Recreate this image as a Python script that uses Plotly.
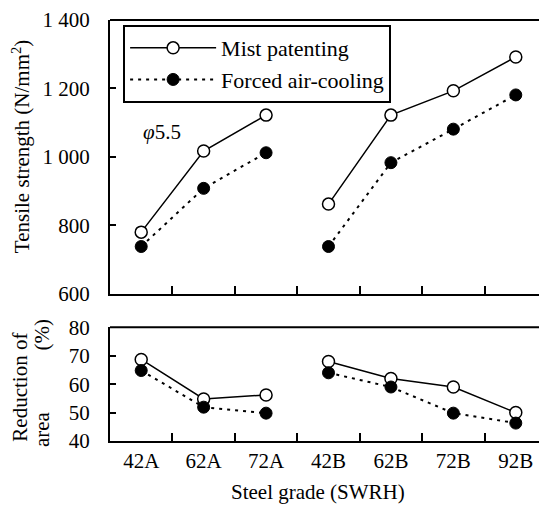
import plotly.graph_objects as go

grades = ["42A", "62A", "72A", "42B", "62B", "72B", "92B"]
group_a = ["42A", "62A", "72A"]
group_b = ["42B", "62B", "72B", "92B"]

tensile_mist_a = [780, 1017, 1122]
tensile_mist_b = [862, 1122, 1193, 1292]
tensile_forced_a = [738, 908, 1012]
tensile_forced_b = [738, 983, 1081, 1181]

reduction_mist_a = [68.7, 54.8, 56.2]
reduction_mist_b = [68.0, 62.0, 59.0, 50.0]
reduction_forced_a = [64.8, 51.9, 49.8]
reduction_forced_b = [64.0, 59.0, 49.8, 46.3]

tensile_ticks = [600, 800, 1000, 1200, 1400]
tensile_ticktext = ["600", "800", "1 000", "1 200", "1 400"]
reduction_ticks = [40, 50, 60, 70, 80]

FONT = "'Times New Roman', 'Liberation Serif', serif"
FS = 21

fig = go.Figure()

mist_style = dict(mode="lines+markers", line=dict(color="black", width=1.5),
                  marker=dict(symbol="circle", size=12, color="white",
                              line=dict(color="black", width=1.5)))
forced_style = dict(mode="lines+markers", line=dict(color="black", width=2, dash="3px,5px"),
                    marker=dict(symbol="circle", size=12, color="black",
                                line=dict(color="black", width=1)))

# top panel
fig.add_trace(go.Scatter(x=group_a, y=tensile_mist_a, name="Mist patenting", legendgroup="mist",
                         showlegend=True, xaxis="x2", yaxis="y2", **mist_style))
fig.add_trace(go.Scatter(x=group_b, y=tensile_mist_b, name="Mist patenting", legendgroup="mist",
                         showlegend=False, xaxis="x2", yaxis="y2", **mist_style))
fig.add_trace(go.Scatter(x=group_a, y=tensile_forced_a, name="Forced air-cooling", legendgroup="forced",
                         showlegend=True, xaxis="x2", yaxis="y2", **forced_style))
fig.add_trace(go.Scatter(x=group_b, y=tensile_forced_b, name="Forced air-cooling", legendgroup="forced",
                         showlegend=False, xaxis="x2", yaxis="y2", **forced_style))
# bottom panel
fig.add_trace(go.Scatter(x=group_a, y=reduction_mist_a, legendgroup="mist", showlegend=False,
                         xaxis="x", yaxis="y", **mist_style))
fig.add_trace(go.Scatter(x=group_b, y=reduction_mist_b, legendgroup="mist", showlegend=False,
                         xaxis="x", yaxis="y", **mist_style))
fig.add_trace(go.Scatter(x=group_a, y=reduction_forced_a, legendgroup="forced", showlegend=False,
                         xaxis="x", yaxis="y", **forced_style))
fig.add_trace(go.Scatter(x=group_b, y=reduction_forced_b, legendgroup="forced", showlegend=False,
                         xaxis="x", yaxis="y", **forced_style))

top_dom = [0.3498, 1.0]
bot_dom = [0.0, 0.2700]

xcommon = dict(type="category", categoryorder="array", categoryarray=grades,
               range=[-0.5, 6.5], tickson="boundaries", ticks="inside", ticklen=8,
               tickwidth=1.5, tickcolor="black", showline=True, linecolor="black",
               linewidth=2, showgrid=False, zeroline=False, mirror=False)

fig.update_layout(
    width=539, height=502,
    margin=dict(l=102, r=0, t=7, b=69),
    paper_bgcolor="white", plot_bgcolor="white",
    font=dict(family=FONT, size=FS, color="black"),
    xaxis=dict(domain=[0, 1], anchor="y", tickfont=dict(family=FONT, size=FS), **xcommon),
    xaxis2=dict(domain=[0, 1], anchor="y2", matches="x", showticklabels=False, **xcommon),
    yaxis=dict(domain=bot_dom, anchor="x", range=[40, 80], tickvals=reduction_ticks,
               ticks="inside", ticklen=6, tickwidth=1.5, tickcolor="black",
               showline=True, linecolor="black", linewidth=2, showgrid=False, zeroline=False,
               ticklabelstandoff=14, tickfont=dict(family=FONT, size=FS)),
    yaxis2=dict(domain=top_dom, anchor="x2", range=[600, 1400], tickvals=tensile_ticks,
                ticktext=tensile_ticktext,
                ticks="inside", ticklen=6, tickwidth=1.5, tickcolor="black",
                showline=True, linecolor="black", linewidth=2, showgrid=False, zeroline=False,
                ticklabelstandoff=14, tickfont=dict(family=FONT, size=FS)),
    legend=dict(x=0.030, y=0.988, xanchor="left", yanchor="top", bgcolor="white",
                bordercolor="black", borderwidth=2, font=dict(family=FONT, size=22),
                itemwidth=86, traceorder="grouped", tracegroupgap=0),
    shapes=[
        dict(type="line", xref="paper", yref="paper", x0=0, x1=1, y0=1, y1=1,
             line=dict(color="black", width=2)),
        dict(type="line", xref="paper", yref="paper", x0=0, x1=1, y0=bot_dom[1], y1=bot_dom[1],
             line=dict(color="black", width=2)),
    ],
    annotations=[
        dict(text="Tensile strength (N/mm<sup>2</sup>)", textangle=-90, xref="paper", yref="paper",
             x=-0.204, y=0.70, xanchor="center", yanchor="middle", showarrow=False,
             font=dict(family=FONT, size=FS)),
        dict(text="Reduction of", textangle=-90, xref="paper", yref="paper",
             x=-0.206, y=0.129, xanchor="center", yanchor="middle", showarrow=False,
             font=dict(family=FONT, size=FS)),
        dict(text="(%)", textangle=-90, xref="paper", yref="paper",
             x=-0.155, y=0.251, xanchor="center", yanchor="middle", showarrow=False,
             font=dict(family=FONT, size=FS)),
        dict(text="area", textangle=-90, xref="paper", yref="paper",
             x=-0.155, y=0.029, xanchor="center", yanchor="middle", showarrow=False,
             font=dict(family=FONT, size=FS)),
        dict(text="Steel grade (SWRH)", xref="paper", yref="paper",
             x=0.476, y=-0.122, xanchor="center", yanchor="middle", showarrow=False,
             font=dict(family=FONT, size=FS)),
        dict(text="<i>φ</i>5.5", xref="paper", yref="paper",
             x=0.119, y=0.735, xanchor="center", yanchor="middle", showarrow=False,
             font=dict(family=FONT, size=FS)),
    ],
)

fig.write_html("out.html")
